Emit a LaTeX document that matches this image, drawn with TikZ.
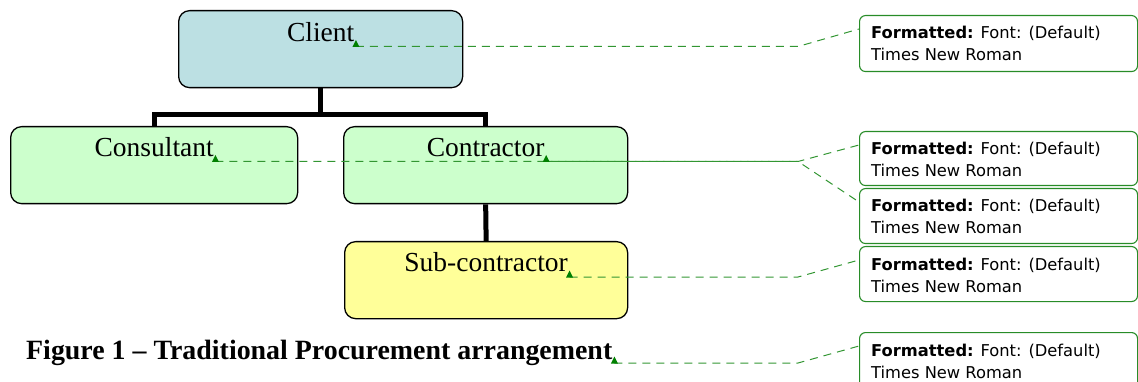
\documentclass[tikz,border=0pt]{standalone}
\usepackage{fontspec}
\setmainfont{Liberation Serif}
\newfontfamily\cmtfont{DejaVu Sans}
\usetikzlibrary{calc}
\definecolor{clientfill}{RGB}{188,224,227}
\definecolor{conffill}{RGB}{204,255,204}
\definecolor{subfill}{RGB}{255,255,153}
\definecolor{cmtgreen}{RGB}{40,140,40}
\definecolor{markgreen}{RGB}{0,128,0}
\definecolor{dashgreen}{RGB}{50,150,50}
\begin{document}
\begin{tikzpicture}[x=1pt,y=-1pt,
  orgbox/.style={draw=black, line width=1.3pt, rounded corners=11pt, minimum height=77pt, inner sep=0pt, anchor=north west},
  boxtext/.style={font=\fontsize{27.5}{30}\selectfont, inner sep=0pt, anchor=base},
  conn/.style={draw=black, line width=5pt},
  cmtbox/.style={draw=cmtgreen, line width=1.1pt, rounded corners=6pt, minimum width=278pt, inner sep=0pt, anchor=north west},
  cmttext/.style={font=\cmtfont\fontsize{16.3}{18}\selectfont, inner sep=0pt, anchor=base west},
  cmtline/.style={draw=dashgreen, line width=1pt, dash pattern=on 8pt off 6pt},
  markertri/.style={fill=markgreen}
]
\useasboundingbox (0,0) rectangle (1138,382);

% organisation boxes
\node[orgbox, fill=clientfill, minimum width=284pt] (client) at (178,10) {};
\node[orgbox, fill=conffill, minimum width=287pt] (consultant) at (10,126) {};
\node[orgbox, fill=conffill, minimum width=284pt] (contractor) at (343,126) {};
\node[orgbox, fill=subfill, minimum width=283pt] (sub) at (344,241) {};

% connectors
\draw[conn] (client.south) -- ++(0,26) coordinate (hb);
\draw[conn] (consultant.north) |- (hb) -| (contractor.north);
\draw[conn] (contractor.south) -- (sub.north);

% box texts
\node[boxtext] (tclient) at ($(client.north)+(0,32)$) {Client};
\node[boxtext] (tconsultant) at ($(consultant.north)+(0,31)$) {Consultant};
\node[boxtext] (tcontractor) at ($(contractor.north)+(0,31)$) {Contractor};
\node[boxtext] (tsub) at ($(sub.north)+(0,31)$) {Sub-contractor};

% caption
\node[font=\bfseries\fontsize{27.9}{30}\selectfont, inner sep=0pt, anchor=base west] (caption) at (26,359) {Figure 1 -- Traditional Procurement arrangement};

% comment boxes
\node[cmtbox, minimum height=56pt] (cb1) at (859,15) {};
\node[cmtbox, minimum height=54pt] (cb2) at (859,131) {};
\node[cmtbox, minimum height=55pt] (cb3) at (859,188) {};
\node[cmtbox, minimum height=55pt] (cb4) at (859,246) {};
\node[cmtbox, minimum height=56pt] (cb5) at (859,332) {};

\foreach \b in {1,...,5}{
  \node[cmttext] (cf\b) at ($(cb\b.north west)+(12,24)$) {\textbf{Formatted:} Font: (Default)};
  \node[cmttext] (cs\b) at ($(cb\b.north west)+(12,46)$) {Times New Roman};
  \coordinate (e\b) at ($(cb\b.north west)+(0,14)$);
}

% marker points
\coordinate (m1) at ($(tclient.base east)+(1.5,4.5)$);
\coordinate (m2) at ($(tconsultant.base east)+(1.5,4.5)$);
\coordinate (m3) at ($(tcontractor.base east)+(1.5,4.5)$);
\coordinate (m4) at ($(tsub.base east)+(1.5,5)$);
\coordinate (m5) at ($(caption.base east)+(2,4)$);
\coordinate (jx) at (798,0);

% phase so that the overlapping dashed lines fill each other's gaps
\path (m2); \pgfgetlastxy{\axx}{\ayy}
\path (m3); \pgfgetlastxy{\bxx}{\byy}
\pgfmathsetmacro\dphase{mod(\bxx-\axx-7+1400,14)}

% dashed comment lines
\draw[cmtline] (m1) -- (m1 -| jx) -- (e1);
\draw[cmtline] (m2) -- (m2 -| jx) -- (e3);
\draw[cmtline, dash phase=\dphase pt] (m3) -- (m3 -| jx) -- (e2);
\draw[cmtline] (m4) -- (m4 -| jx) -- (e4);
\draw[cmtline] (m5) -- (m5 -| jx) -- (e5);

% markers
\foreach \m in {m1,m2,m3,m4,m5}{
  \fill[markertri] ($(\m)+(-3.5,0.5)$) -- ++(7,0) -- ++(-3.5,-7) -- cycle;
}
\end{tikzpicture}
\end{document}
